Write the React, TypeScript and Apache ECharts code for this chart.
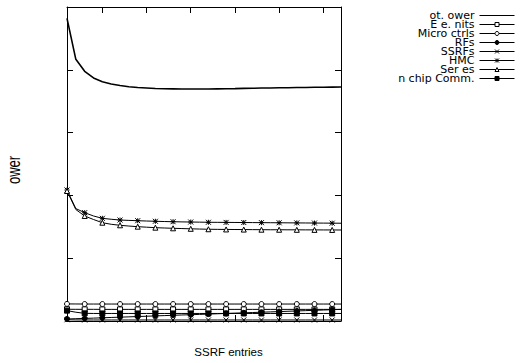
import React, { useEffect, useRef } from "react";
import * as echarts from "echarts";

// SSRF entries (x values)
const ssrfEntries = [1, 2, 3, 4, 5, 6, 7, 8, 9, 10, 11, 12, 13, 14, 15, 16, 17, 18, 19, 20, 21, 22, 23, 24, 25, 26, 27, 28, 29, 30, 31, 32];
const xTickValues = [5, 10, 15, 20, 25, 30];

const totalPower = [4.82, 4.167, 3.976, 3.87, 3.81, 3.775, 3.75, 3.73, 3.717, 3.71, 3.703, 3.699, 3.697, 3.695, 3.694, 3.694, 3.695, 3.697, 3.699, 3.701, 3.704, 3.706, 3.709, 3.711, 3.713, 3.715, 3.717, 3.719, 3.721, 3.722, 3.724, 3.726];
const exeUnits = [0.187, 0.186, 0.186, 0.186, 0.185, 0.185, 0.185, 0.185, 0.185, 0.185, 0.185, 0.185, 0.185, 0.185, 0.185, 0.185, 0.185, 0.185, 0.185, 0.185, 0.185, 0.185, 0.185, 0.185, 0.185, 0.185, 0.185, 0.185, 0.185, 0.185, 0.185, 0.185];
const microCtrls = [0.272, 0.271, 0.27, 0.27, 0.27, 0.27, 0.27, 0.27, 0.27, 0.27, 0.27, 0.27, 0.27, 0.27, 0.27, 0.27, 0.27, 0.27, 0.27, 0.27, 0.27, 0.27, 0.27, 0.27, 0.27, 0.27, 0.27, 0.27, 0.27, 0.27, 0.27, 0.27];
const rfs = [0.032, 0.037, 0.041, 0.046, 0.051, 0.056, 0.061, 0.066, 0.071, 0.076, 0.081, 0.086, 0.091, 0.096, 0.1, 0.105, 0.11, 0.115, 0.12, 0.125, 0.13, 0.135, 0.14, 0.145, 0.15, 0.155, 0.16, 0.165, 0.17, 0.175, 0.18, 0.185];
const ssrfs = [0.02, 0.017, 0.016, 0.016, 0.016, 0.016, 0.016, 0.016, 0.016, 0.016, 0.016, 0.016, 0.016, 0.016, 0.016, 0.016, 0.016, 0.016, 0.016, 0.016, 0.016, 0.016, 0.016, 0.016, 0.016, 0.016, 0.016, 0.016, 0.016, 0.016, 0.016, 0.016];
const hmc = [2.086, 1.79, 1.725, 1.672, 1.635, 1.62, 1.608, 1.602, 1.597, 1.592, 1.588, 1.584, 1.581, 1.578, 1.576, 1.574, 1.572, 1.571, 1.57, 1.569, 1.568, 1.567, 1.566, 1.565, 1.564, 1.563, 1.562, 1.561, 1.56, 1.559, 1.558, 1.557];
const serEs = [2.07, 1.775, 1.672, 1.616, 1.565, 1.54, 1.524, 1.512, 1.502, 1.494, 1.486, 1.481, 1.476, 1.472, 1.468, 1.464, 1.461, 1.459, 1.458, 1.457, 1.456, 1.455, 1.454, 1.453, 1.453, 1.452, 1.452, 1.451, 1.451, 1.45, 1.45, 1.449];
const onChipComm = [0.165, 0.14, 0.122, 0.12, 0.12, 0.12, 0.12, 0.12, 0.12, 0.12, 0.12, 0.12, 0.12, 0.12, 0.12, 0.12, 0.12, 0.12, 0.12, 0.12, 0.12, 0.12, 0.12, 0.12, 0.12, 0.12, 0.12, 0.12, 0.12, 0.12, 0.12, 0.12];

const seriesNames = ["ot. ower", "E e. nits", "Micro ctrls", "RFs", "SSRFs", "HMC", "Ser es", "n chip Comm."];

const CROSS = "path://M0,0L10,10M10,0L0,10";
const STAR = "path://M0,0L10,10M10,0L0,10M5,0L5,10M0,5L10,5";

const FONT = "'DejaVu Sans', sans-serif";
const LEGEND_FONT = 11;

function buildData(ys: number[]) {
  return ssrfEntries.map((x, i) =>
    i % 2 === 0 ? [x, ys[i]] : { value: [x, ys[i]], symbol: "none" }
  );
}

export default function App() {
  const ref = useRef<HTMLDivElement>(null);
  useEffect(() => {
    if (!ref.current) return;
    const chart = echarts.init(ref.current, null, { renderer: "svg" });
    const specs: any[] = [
      { ys: totalPower, symbol: "none", width: 1.6, fill: "#000" },
      { ys: exeUnits, symbol: "rect", width: 1, fill: "#fff" },
      { ys: microCtrls, symbol: "circle", width: 1, fill: "#fff" },
      { ys: rfs, symbol: "circle", width: 1, fill: "#000" },
      { ys: ssrfs, symbol: CROSS, width: 1, fill: "none" },
      { ys: hmc, symbol: STAR, width: 1, fill: "none" },
      { ys: serEs, symbol: "triangle", width: 1, fill: "#fff" },
      { ys: onChipComm, symbol: "rect", width: 1, fill: "#000" },
    ];
    const series = specs.map((s, k) => ({
      type: "line",
      name: seriesNames[k],
      xAxisIndex: 0,
      yAxisIndex: 0,
      data: s.symbol === "none" ? ssrfEntries.map((x, i) => [x, s.ys[i]]) : buildData(s.ys),
      symbol: s.symbol,
      symbolSize: 5,
      clip: true,
      silent: true,
      lineStyle: { color: "#000", width: s.width },
      itemStyle: { color: s.fill, borderColor: "#000", borderWidth: 1 },
      emphasis: { disabled: true },
    }));
    const xBase = {
      type: "value",
      min: 1,
      max: 32,
      axisLine: { show: true, onZero: false, lineStyle: { color: "#000", width: 1 } },
      axisTick: { show: true, inside: true, length: 6, customValues: xTickValues, lineStyle: { color: "#000" } },
      axisLabel: { show: false },
      splitLine: { show: false },
    };
    const yBase = {
      type: "value",
      min: 0,
      max: 5,
      interval: 1,
      axisLine: { show: true, onZero: false, lineStyle: { color: "#000", width: 1 } },
      axisTick: { show: true, inside: true, length: 6, lineStyle: { color: "#000" } },
      axisLabel: { show: false },
      splitLine: { show: false },
    };
    chart.setOption({
      animation: false,
      grid: { left: 67, right: 184, top: 7, bottom: 42, containLabel: false },
      xAxis: [
        { ...xBase, position: "bottom" },
        { ...xBase, position: "top" },
      ],
      yAxis: [
        { ...yBase, position: "left" },
        { ...yBase, position: "right" },
      ],
      legend: {
        data: seriesNames.map((n, i) =>
          i === 0 ? { name: n, itemStyle: { opacity: 0 } } : { name: n }
        ),
        orient: "vertical",
        right: 10,
        top: 10,
        padding: 0,
        align: "right",
        itemWidth: 35,
        itemHeight: 5,
        itemGap: -2.0,
        selectedMode: false,
        lineStyle: { width: 1, color: "#000" },
        itemStyle: { borderWidth: 1, borderColor: "#000" },
        textStyle: { color: "#000", fontFamily: FONT, fontSize: LEGEND_FONT },
      },
      graphic: [
        {
          type: "text",
          x: 14,
          y: 170,
          rotation: Math.PI / 2,
          scaleY: 1.4,
          style: { text: "ower", fill: "#000", font: "13px 'Liberation Sans', Arial, sans-serif", align: "center", verticalAlign: "middle" },
        },
        {
          type: "text",
          x: 228.5,
          y: 352,
          style: { text: "SSRF entries", fill: "#000", font: "11.5px 'Liberation Sans', Arial, sans-serif", align: "center", verticalAlign: "middle" },
        },
      ],
      series,
    });
    return () => chart.dispose();
  }, []);
  return <div ref={ref} style={{ width: 525, height: 363, position: "absolute", left: 0, top: 0 }} />;
}
